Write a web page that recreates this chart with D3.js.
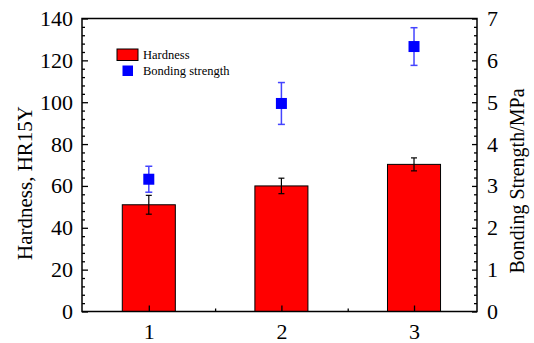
<!DOCTYPE html>
<html><head><meta charset="utf-8">
<script src="https://cdn.jsdelivr.net/npm/d3@7"></script>
<style>body{margin:0;background:#fff}svg{display:block}svg,svg text{font-family:"Liberation Serif","Times New Roman",Times,serif}</style>
</head><body>
<script>
const categories = [1, 2, 3];
const hardness = [51, 60, 70.3];
const hardnessErr = [4.5, 3.7, 3.1];
const bonding = [3.16, 4.97, 6.33];
const bondingErr = [0.31, 0.5, 0.45];
const leftTicks = [0, 20, 40, 60, 80, 100, 120, 140];
const rightTicks = [0, 1, 2, 3, 4, 5, 6, 7];

const W = 534, H = 343;
const L = 82, R = 477, T = 18.5, B = 311.5;
const FONT = '"Liberation Serif"';
const svg = d3.select("body").append("svg").attr("width", W).attr("height", H)
  .style("font-family", FONT);

const x = d3.scaleLinear().domain([0.5, 3.475]).range([L + 0.5, R]);
const yL = d3.scaleLinear().domain([0, 140]).range([B, T]);
const yR = d3.scaleLinear().domain([0, 7]).range([B, T]);
const barW = x(1.2) - x(0.8);

// bars
svg.selectAll("rect.bar").data(categories).join("rect")
  .attr("x", (d) => x(d) - barW / 2)
  .attr("y", (d, i) => yL(hardness[i]))
  .attr("width", barW)
  .attr("height", (d, i) => yL(0) - yL(hardness[i]))
  .attr("fill", "#ff0000").attr("stroke", "#000").attr("stroke-width", 1);

// hardness error bars
const eg = svg.append("g").attr("stroke", "#000").attr("stroke-width", 1.2);
categories.forEach((c, i) => {
  const cx = x(c), y1 = yL(hardness[i] + hardnessErr[i]), y2 = yL(hardness[i] - hardnessErr[i]);
  eg.append("line").attr("x1", cx).attr("x2", cx).attr("y1", y1).attr("y2", y2);
  eg.append("line").attr("x1", cx - 3).attr("x2", cx + 3).attr("y1", y1).attr("y2", y1);
  eg.append("line").attr("x1", cx - 3).attr("x2", cx + 3).attr("y1", y2).attr("y2", y2);
});

// bonding error bars + markers
const bg = svg.append("g").attr("stroke", "#4444ff").attr("stroke-width", 1.5);
categories.forEach((c, i) => {
  const cx = x(c), y1 = yR(bonding[i] + bondingErr[i]), y2 = yR(bonding[i] - bondingErr[i]);
  bg.append("line").attr("x1", cx).attr("x2", cx).attr("y1", y1).attr("y2", y2);
  bg.append("line").attr("x1", cx - 3.5).attr("x2", cx + 3.5).attr("y1", y1).attr("y2", y1);
  bg.append("line").attr("x1", cx - 3.5).attr("x2", cx + 3.5).attr("y1", y2).attr("y2", y2);
});
svg.selectAll("rect.pt").data(categories).join("rect")
  .attr("x", (d) => x(d) - 5.5)
  .attr("y", (d, i) => yR(bonding[i]) - 5.5)
  .attr("width", 11).attr("height", 11)
  .attr("fill", "#0000ff");

// axes
const axL = d3.axisLeft(yL).tickValues(leftTicks).tickSize(-6).tickPadding(9).tickFormat(d3.format("d"));
const axLm = d3.axisLeft(yL).tickValues(d3.range(0, 141, 4).filter(v => v % 20)).tickSize(-3).tickFormat("");
const axR = d3.axisRight(yR).tickValues(rightTicks).tickSize(-5).tickPadding(10).tickFormat(d3.format("d"));
const axRm = d3.axisRight(yR).tickValues(d3.range(0, 35).map(v => v / 5).filter((v, i) => i % 5)).tickSize(-3).tickFormat("");
const axB = d3.axisBottom(x).tickValues(categories).tickSize(-6).tickPadding(12).tickFormat(d3.format("d"));
const axBm = d3.axisBottom(x).tickValues([1.5, 2.5]).tickSize(-3).tickFormat("");

function style(g) {
  g.attr("font-family", null).attr("font-size", null);
  g.select(".domain").remove();
  g.selectAll("line").attr("stroke", "#000").attr("stroke-width", 1.3);
  g.selectAll("text").style("font-family", FONT).attr("font-size", 22).attr("fill", "#000");
}
svg.append("g").attr("transform", `translate(${L},0)`).call(axL).call(style);
svg.append("g").attr("transform", `translate(${L},0)`).call(axLm).call(style);
svg.append("g").attr("transform", `translate(${R},0)`).call(axR).call(style);
svg.append("g").attr("transform", `translate(${R},0)`).call(axRm).call(style);
svg.append("g").attr("transform", `translate(0,${B})`).call(axB).call(style);
svg.append("g").attr("transform", `translate(0,${B})`).call(axBm).call(style);

// frame
svg.append("path").attr("d", `M${L},${T}H${R}V${B}H${L}Z`).attr("fill", "none").attr("stroke", "#000").attr("stroke-width", 1.5);

// axis titles
svg.append("text").attr("transform", `translate(32,${(T + B) / 2 + 18}) rotate(-90)`)
  .attr("text-anchor", "middle").style("font-family", FONT).attr("font-size", 21).text("Hardness, HR15Y");
svg.append("text").attr("transform", `translate(524,${(T + B) / 2 + 16}) rotate(-90)`)
  .attr("text-anchor", "middle").style("font-family", FONT).attr("font-size", 20).text("Bonding Strength/MPa");

// legend
svg.append("rect").attr("x", 117).attr("y", 49).attr("width", 21).attr("height", 11.5)
  .attr("fill", "#ff0000").attr("stroke", "#000").attr("stroke-width", 1);
svg.append("rect").attr("x", 122.5).attr("y", 65.5).attr("width", 10.5).attr("height", 10.5).attr("fill", "#0000ff");
svg.append("text").attr("x", 143).attr("y", 58.5).style("font-family", FONT).attr("font-size", 12.5).text("Hardness");
svg.append("text").attr("x", 143).attr("y", 74.5).style("font-family", FONT).attr("font-size", 12.5).text("Bonding strength");
</script>
</body></html>
